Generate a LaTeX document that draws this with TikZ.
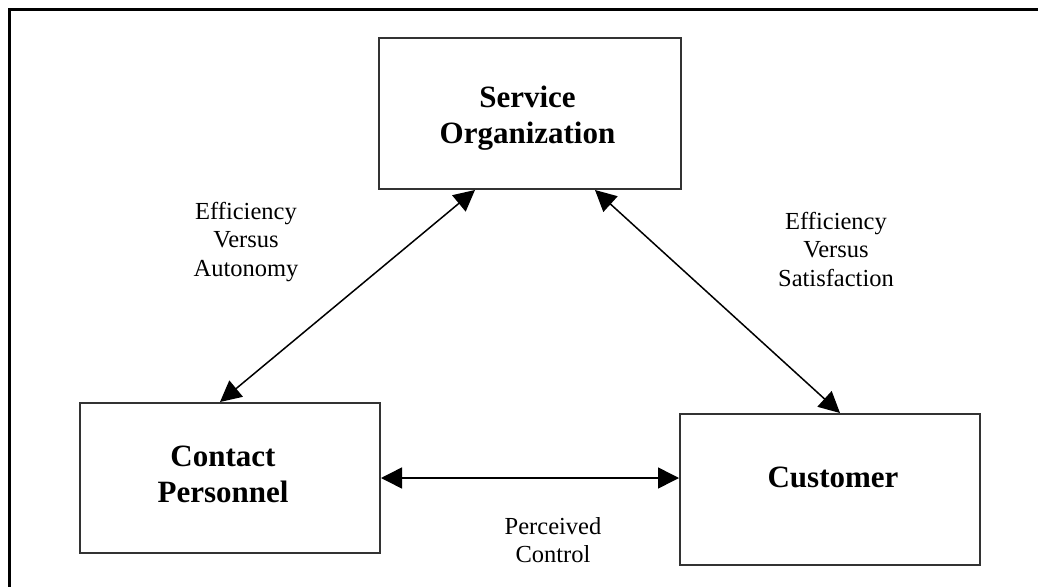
\documentclass[tikz,border=0pt]{standalone}
\usepackage{fontspec}
\setmainfont{Liberation Serif}
\usetikzlibrary{arrows.meta}

\tikzset{
  box/.style={draw=black!80, line width=2pt, rectangle, inner sep=0pt},
  boxtext/.style={align=center, inner sep=0pt, font=\fontsize{31}{36}\selectfont\bfseries},
  label/.style={align=center, inner sep=0pt, font=\fontsize{24.5}{28.5}\selectfont},
  link/.style={line width=1.5pt, {Triangle[length=21pt,width=21pt]}-{Triangle[length=21pt,width=21pt]}, shorten <=0pt, shorten >=0pt},
}

\begin{document}
\begin{tikzpicture}[x=1pt, y=-1pt]
  \useasboundingbox (0,0) rectangle (1038,586);
  \clip (0,0) rectangle (1038,586);

  % outer frame (open to the right and below)
  \draw[line width=2.5pt] (9.5,700) -- (9.5,9.5) -- (1200,9.5);

  % the three parties
  \node[box, minimum width=302pt, minimum height=151pt] (so) at (530,113.5) {};
  \node[box, minimum width=300pt, minimum height=150pt] (cp) at (230,478) {};
  \node[box, minimum width=300pt, minimum height=151pt] (cu) at (830,489.5) {};

  \node[boxtext] (sot) at (527.5,118.5) {Service\\Organization};
  \node[boxtext] (cpt) at (223,474.5) {Contact\\Personnel};
  \node[boxtext] (cut) at (833,477.5) {Customer};

  % two-way relations
  \draw[link] ([xshift=-10pt]cp.north) -- ([xshift=-55pt]so.south);
  \draw[link] ([xshift=65pt]so.south) -- ([xshift=10pt]cu.north);
  \draw[link] (cp.east) -- (cp.east -| cu.west);

  % relation labels
  \node[label] (ea) at (246,242) {Efficiency\\Versus\\Autonomy};
  \node[label] (es) at (836,249) {Efficiency\\Versus\\Satisfaction};
  \node[label] (pc) at (553,540) {Perceived\\Control};
\end{tikzpicture}
\end{document}
